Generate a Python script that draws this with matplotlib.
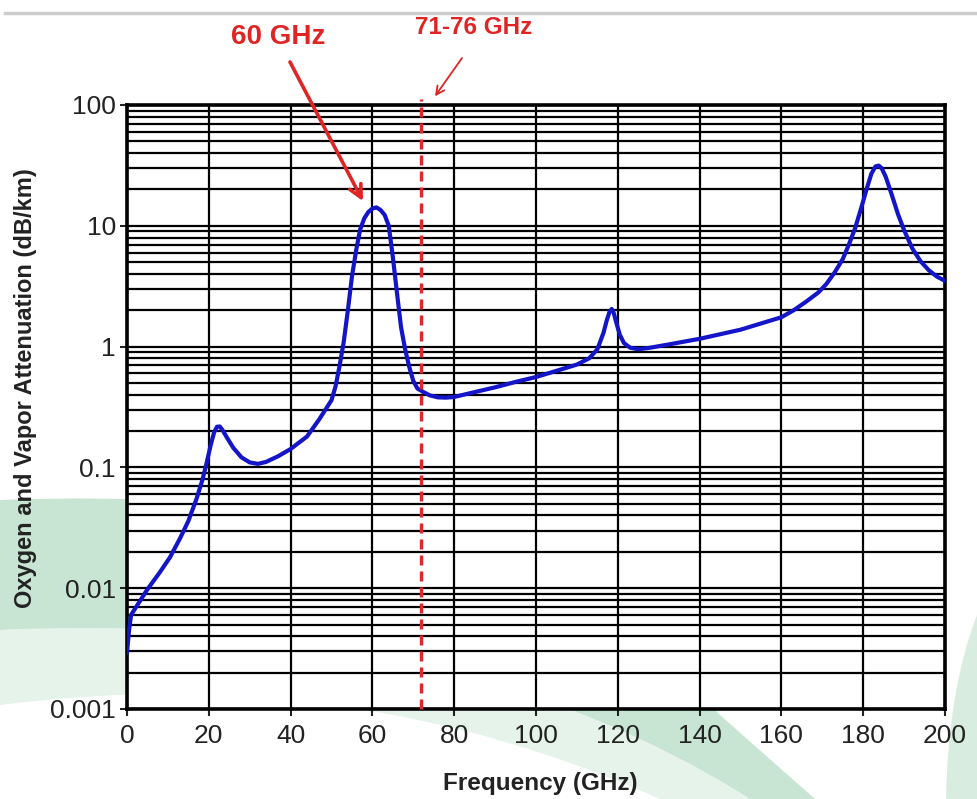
import matplotlib
matplotlib.use('Agg')
import matplotlib.pyplot as plt
from matplotlib.lines import Line2D
from matplotlib.patches import PathPatch
from matplotlib.path import Path
from matplotlib.ticker import LogLocator, FixedLocator, NullFormatter

# values
freq_ghz = [0, 0.5, 1, 2, 5, 8, 10.5, 13, 15, 17, 18.5, 19.5, 20.5, 21.3, 22,
            22.7, 23.5, 24.5, 26, 28, 30, 32, 34, 37, 40, 44, 47, 50, 51, 52,
            53, 54, 55, 56, 57, 58, 59, 60, 61, 62, 63, 64, 65, 66, 67, 68,
            69, 70, 71, 72.5, 74, 76, 78, 80, 85, 90, 95, 100, 105, 110, 113,
            115, 116.5, 117.3, 118, 118.5, 119, 119.7, 120.5, 121.5, 123, 125,
            128, 133, 140, 150, 160, 163, 166, 169, 171, 173, 175, 176.5, 178,
            179.5, 181, 182, 183, 183.8, 184.5, 185.5, 187, 188.5, 190, 192,
            194, 196, 198, 200]
atten_db_km = [0.0029, 0.0045, 0.006, 0.0068, 0.0098, 0.0135, 0.018, 0.026,
               0.036, 0.055, 0.08, 0.11, 0.155, 0.195, 0.217, 0.218, 0.2,
               0.175, 0.145, 0.121, 0.11, 0.107, 0.111, 0.124, 0.142, 0.18,
               0.25, 0.36, 0.47, 0.7, 1.1, 2.0, 3.8, 6.2, 9.3, 11.5, 13.0, 13.9,
               14.2, 13.5, 12.3, 10.0, 5.5, 2.8, 1.45, 0.95, 0.68, 0.52, 0.45,
               0.42, 0.395, 0.38, 0.378, 0.383, 0.42, 0.46, 0.51, 0.56, 0.63,
               0.71, 0.8, 0.95, 1.3, 1.65, 1.95, 2.05, 1.9, 1.55, 1.25, 1.07,
               0.98, 0.95, 0.98, 1.05, 1.16, 1.38, 1.75, 2.0, 2.35, 2.8, 3.3,
               4.1, 5.3, 7.0, 9.5, 14, 21, 27, 31, 31.5, 30, 25.5, 18, 12.5,
               9.2, 6.5, 5.1, 4.3, 3.8, 3.5]

x_ticks = list(range(0, 201, 20))
y_ticks = [0.001, 0.01, 0.1, 1, 10, 100]
y_tick_labels = ['0.001', '0.01', '0.1', '1', '10', '100']
band_ghz = 72
peak_arrow_tip = (57.7, 16)
band_arrow_tip = (75.3, 118)

plt.rcParams['font.family'] = ['Liberation Sans', 'DejaVu Sans']
narrow = ['Liberation Sans Narrow', 'Liberation Sans', 'DejaVu Sans']

fig = plt.figure(figsize=(9.77, 7.99), dpi=100)
W, H = 977, 799


def fp(x, y):
    # pixel (from top-left) -> figure fraction
    return x / W, 1 - y / H


# background green swoosh
codes = [Path.MOVETO, Path.CURVE3, Path.CURVE3, Path.LINETO, Path.LINETO,
         Path.CURVE3, Path.CURVE3, Path.CLOSEPOLY]
swoosh = [fp(0, 500), fp(500, 480), fp(720, 715), fp(815, 799), fp(750, 799),
          fp(450, 610), fp(0, 630), fp(0, 500)]
fig.add_artist(PathPatch(Path(swoosh, codes), transform=fig.transFigure,
                         facecolor='#bfe1cc', edgecolor='none', alpha=0.85,
                         zorder=-2))
swoosh2 = [fp(0, 630), fp(450, 610), fp(750, 799), fp(660, 799), fp(660, 799),
           fp(350, 660), fp(0, 705), fp(0, 630)]
fig.add_artist(PathPatch(Path(swoosh2, codes), transform=fig.transFigure,
                         facecolor='#e1f1e7', edgecolor='none', alpha=0.85,
                         zorder=-2))
right = [fp(977, 615), fp(948, 690), fp(946, 799), fp(977, 799), fp(977, 799),
         fp(977, 700), fp(977, 615), fp(977, 615)]
fig.add_artist(PathPatch(Path(right, codes), transform=fig.transFigure,
                         facecolor='#cfe8d8', edgecolor='none', alpha=0.8,
                         zorder=-2))

# grey line at the top
fig.add_artist(Line2D([5 / W, 1], [1 - 13 / H] * 2, transform=fig.transFigure,
                      color='#cccccc', lw=2.5))

ax = fig.add_axes([127 / W, 90 / H, 818 / W, 604 / H])
ax.set_facecolor('white')
ax.set_yscale('log')
ax.set_xlim(0, 200)
ax.set_ylim(0.001, 100)

ax.xaxis.set_major_locator(FixedLocator(x_ticks))
ax.yaxis.set_major_locator(FixedLocator(y_ticks))
ax.set_yticklabels(y_tick_labels)
ax.yaxis.set_minor_locator(LogLocator(base=10, subs=range(2, 10)))
ax.yaxis.set_minor_formatter(NullFormatter())

ax.grid(True, which='both', axis='y', color='black', lw=1.6)
ax.grid(True, which='major', axis='x', color='black', lw=1.6)
ax.set_axisbelow(True)

ax.tick_params(which='major', direction='out', length=5, width=1.5,
               labelsize=19, colors='#222222', pad=3)
ax.tick_params(axis='x', pad=6)
ax.tick_params(which='minor', length=0)
for lab in ax.get_xticklabels() + ax.get_yticklabels():
    lab.set_family(narrow)
for s in ax.spines.values():
    s.set_linewidth(2.6)
    s.set_color('black')

ax.plot(freq_ghz, atten_db_km, color='#1414c8', lw=3.0, zorder=3,
        solid_joinstyle='round', solid_capstyle='round')
ax.axvline(band_ghz, color='#e8232a', lw=2.4, ls=(0, (3, 1.8)), zorder=4,
           ymax=1.01, clip_on=False)

ax.set_xlabel('Frequency (GHz)', fontsize=17.5, fontweight='bold',
              color='#222222')
ax.xaxis.set_label_coords(0.505, -0.105)
ax.set_ylabel('Oxygen and Vapor Attenuation (dB/km)', fontsize=17,
              fontweight='bold', color='#222222')
ax.yaxis.set_label_coords(-0.11, 0.532)

red = '#e02424'
fig.text(*fp(278, 37), '60 GHz', ha='center', va='center', color=red,
         fontsize=20, fontweight='bold')
fig.text(*fp(474, 28), '71-76 GHz', ha='center', va='center', color=red,
         fontsize=17.5, fontweight='bold')

ax.annotate('', xy=peak_arrow_tip, xytext=fp(290, 62),
            textcoords='figure fraction', annotation_clip=False,
            arrowprops=dict(arrowstyle='->,head_length=0.9,head_width=0.45',
                            color=red, lw=2.6, shrinkA=0, shrinkB=0))
ax.annotate('', xy=band_arrow_tip, xytext=fp(462, 58),
            textcoords='figure fraction', annotation_clip=False,
            arrowprops=dict(arrowstyle='->,head_length=0.6,head_width=0.3',
                            color=red, lw=1.3, shrinkA=0, shrinkB=0))

fig.savefig('out.png', dpi=100)
